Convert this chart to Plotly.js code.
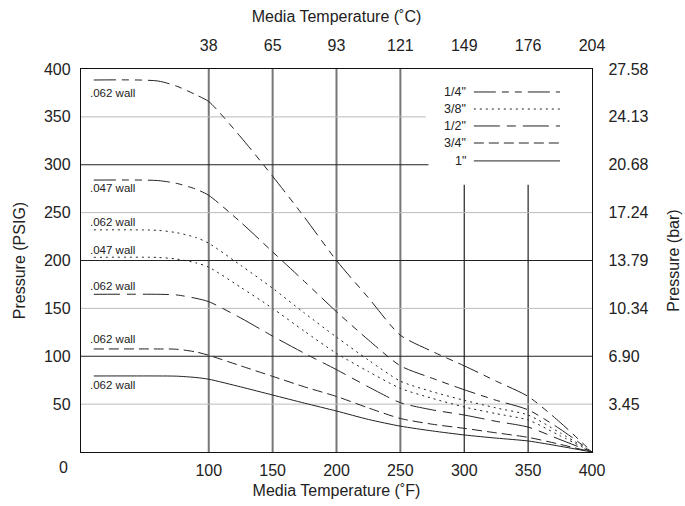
<!DOCTYPE html>
<html>
<head>
<meta charset="utf-8">
<script src="https://cdn.plot.ly/plotly-3.0.1.min.js"></script>
<style>html,body{margin:0;padding:0;background:#fff;}#chart{width:685px;height:506px;}</style>
</head>
<body>
<div id="chart"></div>
<script>
// Media temperature (°F) sample points
const tempF = [10, 60, 75, 90, 100, 125, 150, 175, 200, 225, 250, 275, 300, 325, 350, 375, 400];

// Pressure (PSIG) per tube size / wall
const p14_062 = [388.5, 387.5, 382, 373, 366, 329, 288, 245, 200, 161, 122, 105, 90, 74, 58, 31, 0];
const p14_047 = [284, 283.5, 280.5, 274.5, 268, 240, 209, 178, 146.5, 117, 90, 77, 65, 54, 44, 24, 0];
const p38_062 = [232, 231.5, 229, 224, 218, 195, 171, 145, 120, 96, 74, 63, 54, 46, 38.6, 20, 0];
const p38_047 = [203.3, 203.2, 201.5, 197.5, 193, 172, 150, 126, 103, 84, 66.5, 56, 47, 40, 33.4, 17, 0];
const p12_062 = [164.7, 164.7, 164, 160.5, 157, 140, 121, 103, 86, 68, 51.5, 44, 38.6, 32, 26, 13, 0];
const p34_062 = [107.6, 107.6, 107.3, 104.5, 101, 90, 79, 68, 58, 46, 35, 29, 24.7, 20, 15.3, 8, 0];
const p1_062  = [79.4, 79.4, 79.2, 77.8, 76, 68, 59.5, 51, 42.8, 34, 27, 22, 17.8, 14.5, 11.5, 6, 0];

// Tick labels
const fTicks = [100, 150, 200, 250, 300, 350, 400];
const cTickText = ['38', '65', '93', '121', '149', '176', '204'];
const psiTicks = [50, 100, 150, 200, 250, 300, 350, 400];
const barTickText = ['3.45', '6.90', '10.34', '13.79', '17.24', '20.68', '24.13', '27.58'];

// Legend / wall labels
const sizeNames = ['1/4"', '3/8"', '1/2"', '3/4"', '1"'];
const wallLabels = ['.062 wall', '.047 wall', '.062 wall', '.047 wall', '.062 wall', '.062 wall', '.062 wall'];
const wallLabelY = [375, 275.5, 240.5, 211, 173, 118.5, 69.5];

const DASH = {
  '1/4"': '22px,6px,7px,6px,7px,6px',
  '3/8"': '2px,4px',
  '1/2"': '26px,7px,9px,7px',
  '3/4"': '10px,5px',
  '1"': 'solid'
};
const INK = '#222';

const series = [
  {y: p14_062, size: '1/4"'},
  {y: p14_047, size: '1/4"'},
  {y: p38_062, size: '3/8"'},
  {y: p38_047, size: '3/8"'},
  {y: p12_062, size: '1/2"'},
  {y: p34_062, size: '3/4"'},
  {y: p1_062,  size: '1"'}
];

const traces = series.map((s, i) => ({
  type: 'scatter', mode: 'lines', x: tempF, y: s.y,
  name: s.size + ' ' + wallLabels[i],
  line: {color: INK, width: 1, dash: DASH[s.size], shape: 'spline', smoothing: 0.7},
  hoverinfo: 'skip'
}));
// helper trace to activate secondary axes
traces.push({type: 'scatter', mode: 'lines', x: [0, 400], y: [0, 400], xaxis: 'x2', yaxis: 'y2',
  line: {color: 'rgba(0,0,0,0)'}, hoverinfo: 'skip', showlegend: false});

const shapes = [];
// vertical grid lines
[100, 150, 200, 250].forEach(v => shapes.push({type: 'line', xref: 'x', yref: 'y', x0: v, x1: v, y0: 0, y1: 400,
  line: {color: '#777', width: 2}, layer: 'below'}));
[300, 350].forEach(v => shapes.push({type: 'line', xref: 'x', yref: 'y', x0: v, x1: v, y0: 0, y1: 279,
  line: {color: '#222', width: 1.2}, layer: 'below'}));
// horizontal grid lines
[[200, 400], [100, 400], [300, 272]].forEach(([v, e]) => shapes.push({type: 'line', xref: 'x', yref: 'y', x0: 0, x1: e, y0: v, y1: v,
  line: {color: '#222', width: 1.2}, layer: 'below'}));
[[250, 400], [150, 400], [50, 400], [350, 270]].forEach(([v, e]) => shapes.push({type: 'line', xref: 'x', yref: 'y', x0: 0, x1: e, y0: v, y1: v,
  line: {color: '#bbb', width: 1}, layer: 'below'}));

// custom legend (text left, sample right)
const legY = [376, 358.2, 340.5, 322.7, 304];
const annotations = [];
sizeNames.forEach((n, i) => {
  annotations.push({xref: 'x', yref: 'y', x: 303, y: legY[i], text: n, showarrow: false,
    xanchor: 'right', yanchor: 'middle', font: {size: 12.5, color: INK}});
  shapes.push({type: 'line', xref: 'x', yref: 'y', x0: 307.5, x1: 375, y0: legY[i], y1: legY[i],
    line: {color: INK, width: 1, dash: DASH[n]}});
});
wallLabels.forEach((t, i) => annotations.push({xref: 'x', yref: 'y', x: 5.5, y: wallLabelY[i], text: t,
  showarrow: false, xanchor: 'left', yanchor: 'middle', font: {size: 11.5, color: INK}}));
annotations.push({xref: 'paper', yref: 'paper', x: -0.035, y: -0.04, text: '0', showarrow: false,
  xanchor: 'center', yanchor: 'middle', font: {size: 16, color: INK}});

const axBase = {range: [0, 400], showgrid: false, zeroline: false, showline: true, linecolor: '#111',
  linewidth: 1.2, ticks: '', fixedrange: true, tickfont: {size: 16, color: INK}};

const layout = {
  width: 685, height: 506,
  margin: {l: 81, r: 93, t: 69, b: 54, pad: 0},
  paper_bgcolor: '#fff', plot_bgcolor: '#fff',
  font: {family: '"Liberation Sans", Arial, sans-serif', size: 16, color: INK},
  showlegend: false,
  xaxis: Object.assign({}, axBase, {tickvals: fTicks, ticktext: fTicks.map(String), ticklabelstandoff: 4,
    title: {text: 'Media Temperature (˚F)', standoff: 6, font: {size: 16}}}),
  xaxis2: Object.assign({}, axBase, {overlaying: 'x', side: 'top', tickvals: fTicks, ticktext: cTickText,
    ticklabelstandoff: 10, title: {text: 'Media Temperature (˚C)', standoff: 10, font: {size: 16}}}),
  yaxis: Object.assign({}, axBase, {tickvals: psiTicks, ticktext: psiTicks.map(String), ticklabelstandoff: 6,
    title: {text: 'Pressure (PSIG)', standoff: 14, font: {size: 16}}}),
  yaxis2: Object.assign({}, axBase, {overlaying: 'y', side: 'right', tickvals: psiTicks, ticktext: barTickText,
    ticklabelstandoff: 12, title: {text: 'Pressure (bar)', standoff: 20, font: {size: 16}}}),
  shapes: shapes,
  annotations: annotations
};

Plotly.newPlot('chart', traces, layout, {staticPlot: true, displayModeBar: false});
</script>
</body>
</html>
